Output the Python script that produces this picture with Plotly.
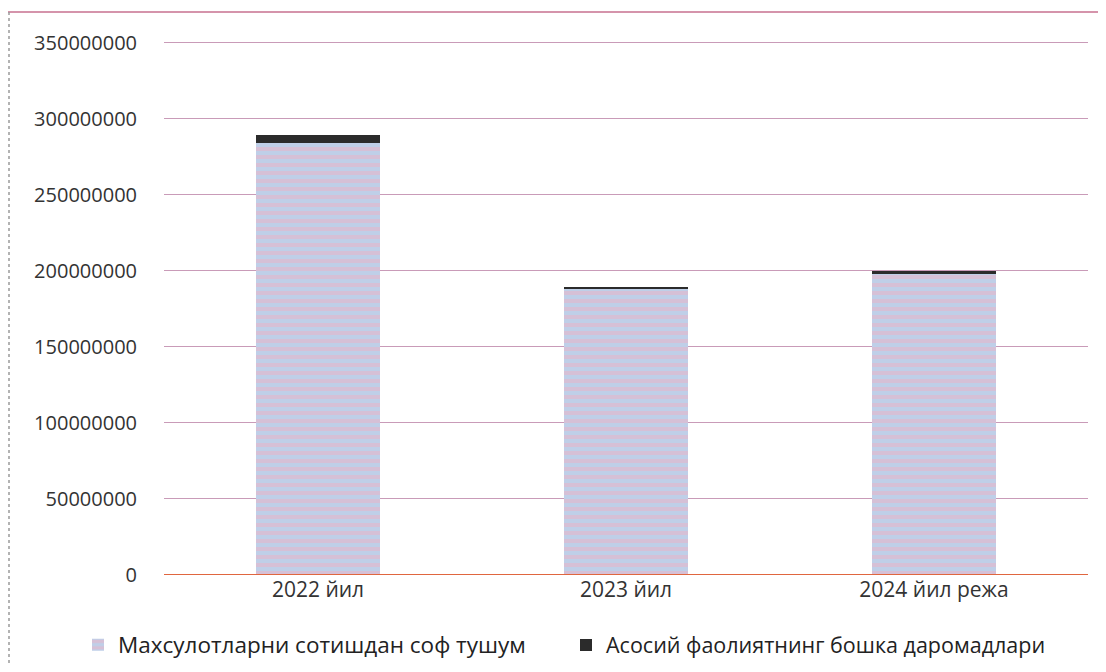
import plotly.graph_objects as go

categories = ["2022 йил", "2023 йил", "2024 йил режа"]
sales_net = [284000000, 188000000, 198000000]
other_income = [5500000, 1000000, 1500000]
tick_vals = [0, 50000000, 100000000, 150000000, 200000000, 250000000, 300000000, 350000000]
tick_text = ["0", "50000000", "100000000", "150000000", "200000000", "250000000", "300000000", "350000000"]

FONT = "Open Sans"

fig = go.Figure()
fig.add_trace(go.Bar(
    x=categories, y=sales_net, name="Махсулотларни сотишдан соф тушум",
    legend="legend",
    marker=dict(color="#c6c0ea", line=dict(width=0),
                pattern=dict(shape="-", fgcolor="#eeb2c4", bgcolor="#bfcfe8", size=8, solidity=0.5)),
))
fig.add_trace(go.Bar(
    x=categories, y=other_income, name="Асосий фаолиятнинг бошка даромадлари",
    legend="legend2",
    marker=dict(color="#2b2b2b", line=dict(width=0)),
))

# page body has an 8px margin: figure origin sits at screen (8, 8)
OFF = 8
W, H = 1090, 656
L = 164 - OFF
R = W - (1088 - OFF)
T = 41 - OFF
B = H - (575 - OFF)
pw, ph = W - L - R, H - T - B

def px_x(px):
    return (px - OFF - L) / pw

def px_y(py):
    return (H - B - (py - OFF)) / ph

legend_common = dict(orientation="h", xanchor="left", y=px_y(645), yanchor="middle",
                     itemwidth=30, bgcolor="rgba(0,0,0,0)")

fig.update_layout(
    width=W, height=H,
    barmode="stack", bargap=0.6,
    margin=dict(l=L, r=R, t=T, b=B, autoexpand=False),
    paper_bgcolor="white", plot_bgcolor="white",
    font=dict(family=FONT, size=20, color="#333333"),
    showlegend=True,
    legend=dict(x=px_x(78), font=dict(family=FONT, size=22.5, color="#222222"), **legend_common),
    legend2=dict(x=px_x(566), font=dict(family=FONT, size=21.5, color="#222222"), **legend_common),
    xaxis=dict(showgrid=False, showline=False, ticks="", tickfont=dict(size=21, color="#333333")),
    yaxis=dict(range=[0, 351000000], tickvals=tick_vals, ticktext=tick_text,
               showgrid=True, gridcolor="#c99bb8", gridwidth=1, zeroline=False,
               showline=False, ticks="", ticklabelstandoff=26,
               tickfont=dict(size=20, color="#333333")),
    shapes=[
        dict(type="line", xref="paper", yref="paper", x0=px_x(8), x1=px_x(1106), y0=px_y(12), y1=px_y(12),
             line=dict(color="#c7708f", width=1.5)),
        dict(type="line", xref="paper", yref="paper", x0=px_x(9), x1=px_x(9), y0=px_y(12), y1=px_y(672),
             line=dict(color="#9a9a9a", width=1.5, dash="dot")),
        dict(type="line", xref="paper", yref="y", x0=0, x1=1, y0=0, y1=0, layer="above",
             line=dict(color="#e0663f", width=2)),
    ],
)

fig.write_html("out.html")
